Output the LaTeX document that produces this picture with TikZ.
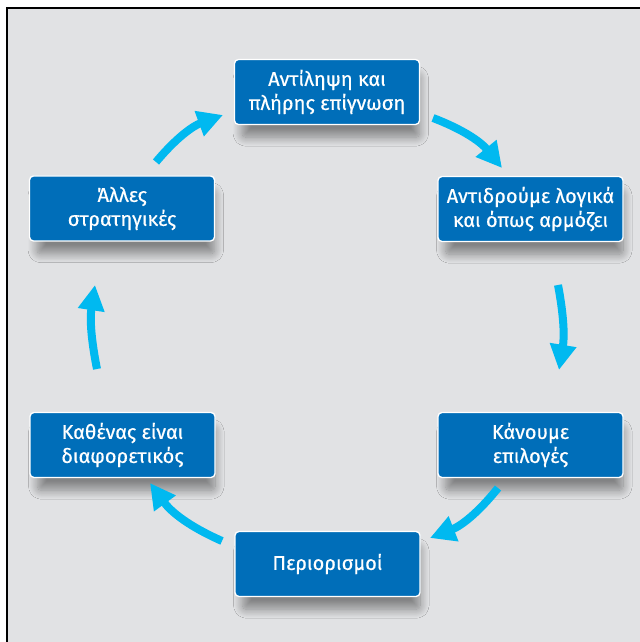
\documentclass[tikz,border=0pt]{standalone}
\usepackage{fontspec}
\setmainfont{Fira Sans}
\newfontfamily\boxfont[FakeBold=0.5]{Fira Sans}
\usetikzlibrary{arrows.meta, shadows.blur}
\definecolor{boxblue}{RGB}{0,110,185}
\definecolor{arrowcyan}{RGB}{0,185,240}
\definecolor{bggray}{RGB}{225,226,228}
\tikzset{>={Triangle[length=19pt,width=19pt]},
    stagebox/.style={rectangle, rounded corners=3pt, fill=boxblue, draw=white, line width=1pt,
        text=white, align=center, minimum width=138.75pt, minimum height=48.75pt, inner sep=0pt,
        font=\boxfont\fontsize{15}{18}\selectfont,
        blur shadow={shadow xshift=3pt, shadow yshift=-11pt, shadow blur radius=7pt,
            shadow blur steps=14, shadow opacity=42, shadow scale=0.96}},
    cyclearrow/.style={->, arrowcyan, line width=6pt}}

\begin{document}
\begin{tikzpicture}[x=0.75pt,y=0.75pt]
    \useasboundingbox (0,0) rectangle (639,642);
    \draw[fill=bggray, line width=2.2pt] (7,634) rectangle (720,-60);

    % the six stages
    \node[stagebox] (percept) at (327,550) {Αντίληψη και\\πλήρης επίγνωση};
    \node[stagebox] (react) at (530.5,433) {Αντιδρούμε λογικά\\και όπως αρμόζει};
    \node[stagebox] (choose) at (530.5,197) {Κάνουμε\\επιλογές};
    \node[stagebox] (limits) at (327.5,78) {Περιορισμοί};
    \node[stagebox] (differ) at (122.5,197) {Καθένας είναι\\διαφορετικός};
    \node[stagebox] (other) at (122,433.5) {Άλλες\\στρατηγικές};

    % arrow ends
    \coordinate (otherout) at (156,480);   \coordinate (perceptin) at (223,527);
    \coordinate (perceptout) at (433,524); \coordinate (reactin) at (502,474);
    \coordinate (reactout) at (558,357);   \coordinate (choosein) at (559,272);
    \coordinate (chooseout) at (498,154);  \coordinate (limitsin) at (430,104);
    \coordinate (limitsout) at (222,101);  \coordinate (differin) at (150,159);
    \coordinate (differout) at (97,273);   \coordinate (otherin) at (95,357);

    \draw[cyclearrow] (otherout) to[bend left=15] (perceptin);
    \draw[cyclearrow] (perceptout) to[bend left=15] (reactin);
    \draw[cyclearrow] (reactout) to[bend left=10] (choosein);
    \draw[cyclearrow] (chooseout) to[bend left=15] (limitsin);
    \draw[cyclearrow] (limitsout) to[bend left=15] (differin);
    \draw[cyclearrow] (differout) to[bend left=10] (otherin);
\end{tikzpicture}
\end{document}
